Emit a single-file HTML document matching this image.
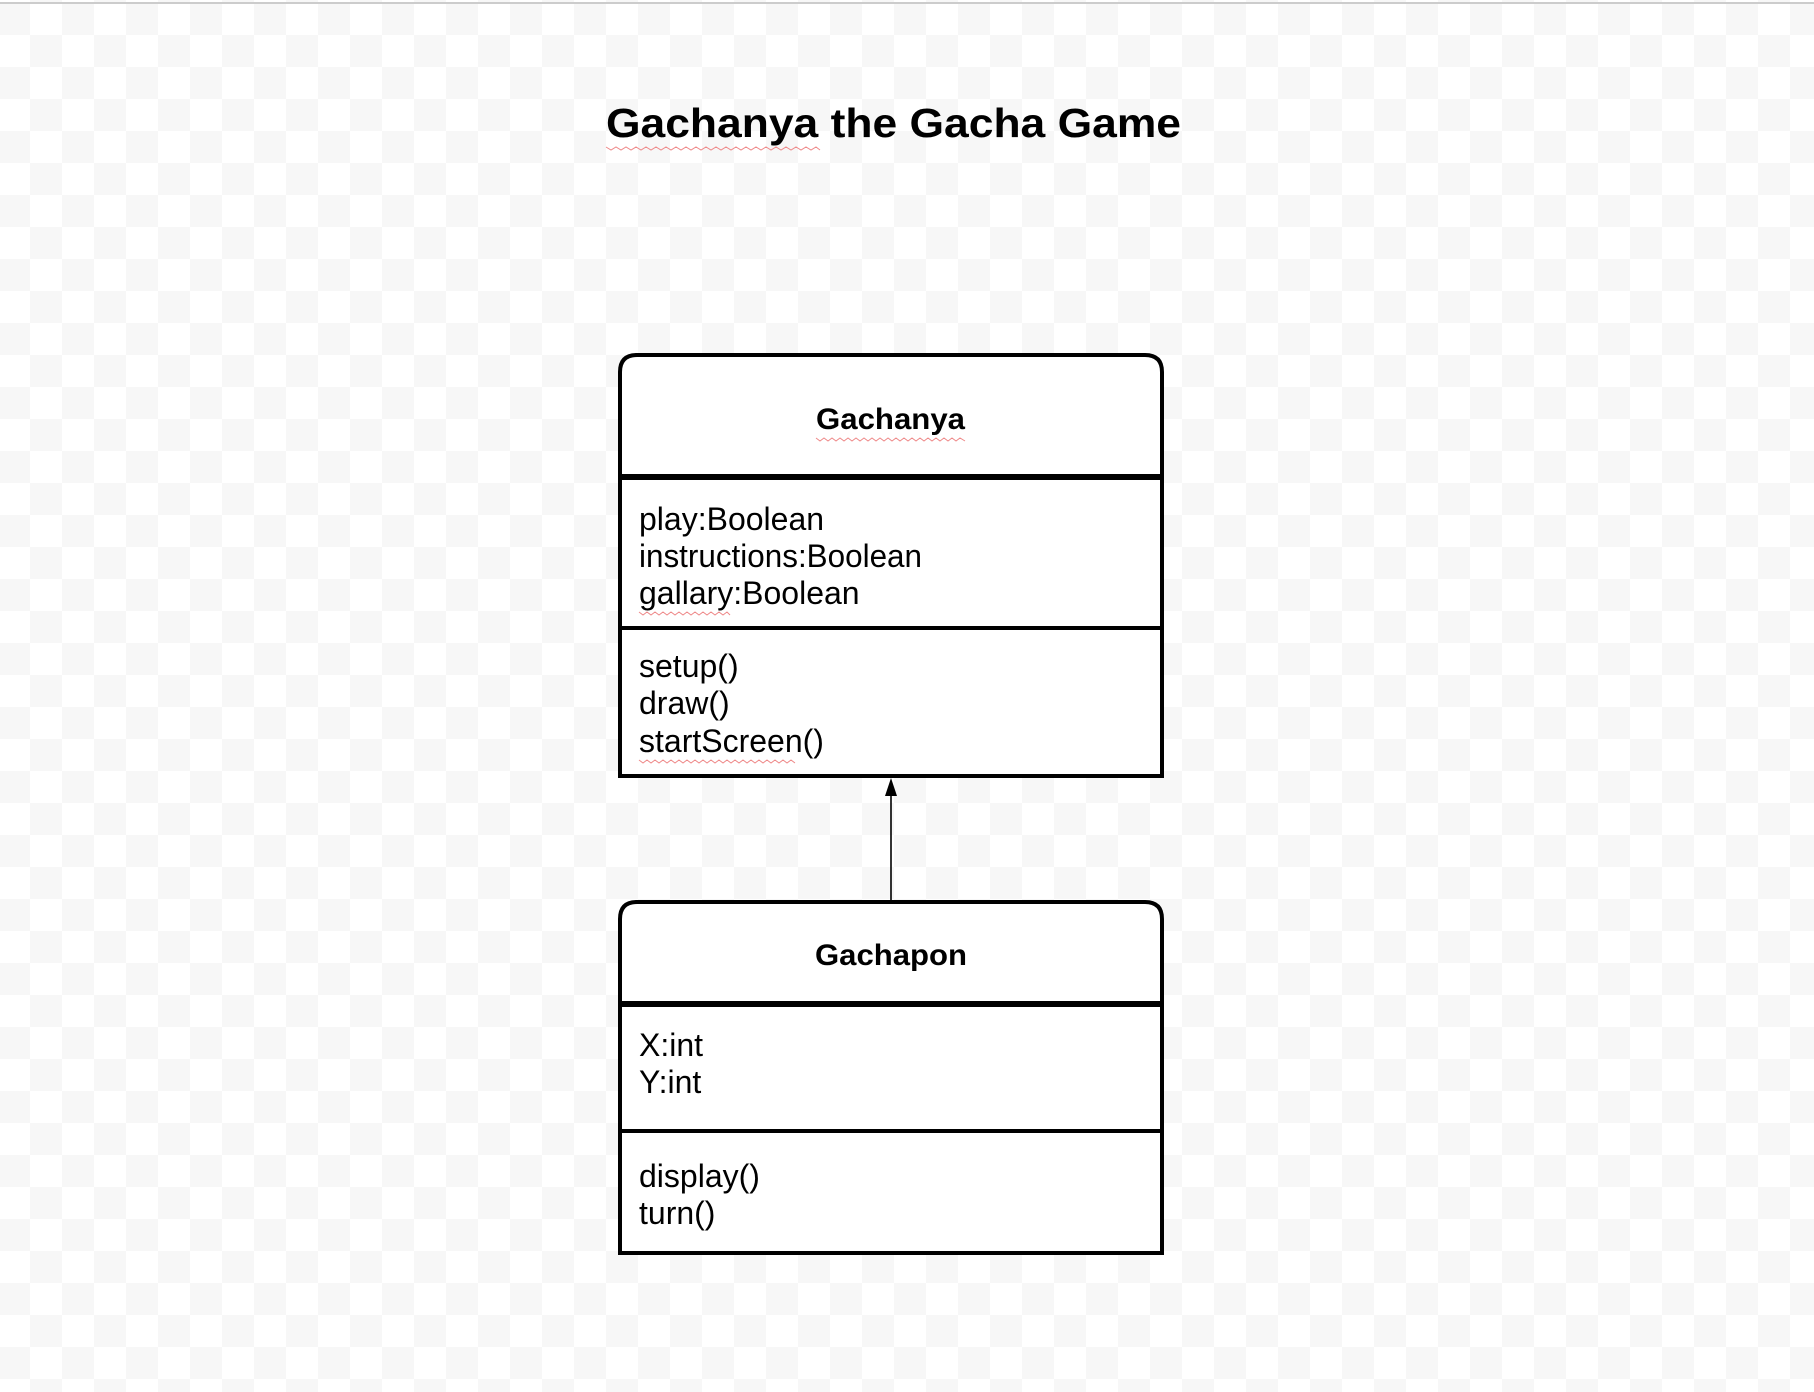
<!DOCTYPE html>
<html><head><meta charset="utf-8"><style>
html,body{margin:0;padding:0;width:1814px;height:1392px;overflow:hidden;background:#fff}
</style></head><body>
<svg width="1814" height="1392" xmlns="http://www.w3.org/2000/svg" font-family="Liberation Sans, Arial, sans-serif">
<defs>
<pattern id="ck" x="-2" y="3" width="64" height="64" patternUnits="userSpaceOnUse">
<rect width="64" height="64" fill="#fff"/>
<rect width="32" height="32" fill="#f7f7f7"/>
<rect x="32" y="32" width="32" height="32" fill="#f7f7f7"/>
</pattern>
</defs>
<rect width="1814" height="1392" fill="url(#ck)"/>
<rect x="0" y="2" width="1814" height="2" fill="#cccccc"/>
<text x="606" y="137" font-size="41" font-weight="bold" textLength="575" lengthAdjust="spacingAndGlyphs">Gachanya the Gacha Game</text>
<polyline points="606,147 611,150 616,147 621,150 626,147 631,150 636,147 641,150 646,147 651,150 656,147 661,150 666,147 671,150 676,147 681,150 686,147 691,150 696,147 701,150 706,147 711,150 716,147 721,150 726,147 731,150 736,147 741,150 746,147 751,150 756,147 761,150 766,147 771,150 776,147 781,150 786,147 791,150 796,147 801,150 806,147 811,150 816,147 820,150" fill="none" stroke="#e88" stroke-width="1"/>

<path d="M620,477 L620,372 Q620,355 637,355 L1145,355 Q1162,355 1162,372 L1162,477" fill="#fff" stroke="#000" stroke-width="4"/>
<rect x="620" y="477" width="542" height="299" fill="#fff" stroke="#000" stroke-width="4"/>
<rect x="620" y="474" width="542" height="6" fill="#000"/>
<line x1="620" y1="628" x2="1162" y2="628" stroke="#000" stroke-width="4"/>
<text x="816" y="429" font-size="30" font-weight="bold" textLength="149" lengthAdjust="spacingAndGlyphs">Gachanya</text>
<polyline points="816,438 820,441 824,438 828,441 832,438 836,441 840,438 844,441 848,438 852,441 856,438 860,441 864,438 868,441 872,438 876,441 880,438 884,441 888,438 892,441 896,438 900,441 904,438 908,441 912,438 916,441 920,438 924,441 928,438 932,441 936,438 940,441 944,438 948,441 952,438 956,441 960,438 965,441" fill="none" stroke="#e88" stroke-width="1"/>
<g font-size="32">
<text x="639" y="530">play:Boolean</text>
<text x="639" y="567" textLength="283" lengthAdjust="spacingAndGlyphs">instructions:Boolean</text>
<text x="639" y="604">gallary:Boolean</text>
<text x="639" y="677">setup()</text>
<text x="639" y="714">draw()</text>
<text x="639" y="752">startScreen()</text>
</g>
<polyline points="639,612 643,615 647,612 651,615 655,612 659,615 663,612 667,615 671,612 675,615 679,612 683,615 687,612 691,615 695,612 699,615 703,612 707,615 711,612 715,615 719,612 723,615 727,612 730,615" fill="none" stroke="#e88" stroke-width="1"/>
<polyline points="639,760 643,763 647,760 651,763 655,760 659,763 663,760 667,763 671,760 675,763 679,760 683,763 687,760 691,763 695,760 699,763 703,760 707,763 711,760 715,763 719,760 723,763 727,760 731,763 735,760 739,763 743,760 747,763 751,760 755,763 759,760 763,763 767,760 771,763 775,760 779,763 783,760 787,763 791,760 795,763" fill="none" stroke="#e88" stroke-width="1"/>

<line x1="891" y1="902" x2="891" y2="792" stroke="#000" stroke-width="1.6"/>
<polygon points="891,778 885,796 897,796" fill="#000"/>

<path d="M620,1004 L620,919 Q620,902 637,902 L1145,902 Q1162,902 1162,919 L1162,1004" fill="#fff" stroke="#000" stroke-width="4"/>
<rect x="620" y="1004" width="542" height="249" fill="#fff" stroke="#000" stroke-width="4"/>
<rect x="620" y="1001" width="542" height="6" fill="#000"/>
<line x1="620" y1="1131" x2="1162" y2="1131" stroke="#000" stroke-width="4"/>
<text x="815" y="965" font-size="30" font-weight="bold" textLength="152" lengthAdjust="spacingAndGlyphs">Gachapon</text>
<g font-size="32">
<text x="639" y="1056">X:int</text>
<text x="639" y="1093">Y:int</text>
<text x="639" y="1187">display()</text>
<text x="639" y="1224">turn()</text>
</g>
</svg>
</body></html>
